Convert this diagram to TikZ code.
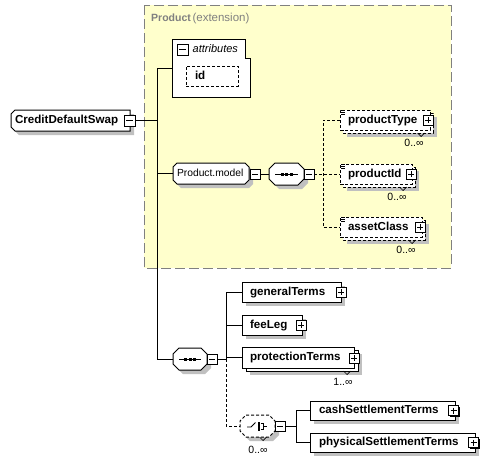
\documentclass[tikz,border=0pt]{standalone}
\usepackage{fontspec}
\setmainfont{Liberation Sans}
\pgfdeclarelayer{bg}
\pgfdeclarelayer{shp}
\pgfdeclarelayer{top}
\pgfsetlayers{bg,shp,main,top}
\definecolor{prodbg}{RGB}{255,255,204}
\definecolor{prodline}{RGB}{128,128,128}
\definecolor{shgray}{RGB}{192,192,192}
\newcommand\efont{\fontsize{11.6}{13}\selectfont\bfseries}
\newcommand\lfont{\fontsize{10.5}{12}\selectfont}
% chamfered outline of a node: #1 options, #2 node, #3 left cut, #4 right cut
\newcommand\chamferpath[4]{%
  \path[#1] ([xshift=#3]#2.north west) -- ([xshift=-#4]#2.north east)
    -- ([yshift=-#4]#2.north east) -- ([yshift=#4]#2.south east)
    -- ([xshift=-#4]#2.south east) -- ([xshift=#3]#2.south west)
    -- ([yshift=#3]#2.south west) -- ([yshift=-#3]#2.north west) -- cycle;}
% shifted copy of a node's rectangle: #1 options, #2 node, #3 shift
\newcommand\rectcopy[3]{%
  \path[#1] ([shift={#3}]#2.north west) rectangle ([shift={#3}]#2.south east);}
\tikzset{
  conn/.style={draw=black, line width=1pt},
  dconn/.style={conn, dash pattern=on 3pt off 2pt},
  base/.style={outer sep=0pt, inner ysep=0pt, text height=8.4pt, text depth=2.4pt, align=left, minimum height=20pt},
  elem/.style={base, font=\efont, draw=black, fill=white, line width=1pt, inner xsep=8pt},
  optelem/.style={elem, dash pattern=on 3pt off 2pt},
  ghost/.style={base, draw=none, fill=none},
  copysolid/.style={fill=white, draw=black, line width=1pt},
  copydashed/.style={copysolid, dash pattern=on 3pt off 2pt},
  shapestyle/.style={fill=white, draw=black, line width=1pt},
  dshapestyle/.style={shapestyle, dash pattern=on 3pt off 2pt},
  pmbox/.style={draw=black, fill=white, line width=0.9pt, minimum size=10pt, inner sep=0pt, outer sep=0pt},
  minusbox/.style={pmbox, path picture={\draw[line width=0.9pt] ([xshift=2pt]path picture bounding box.west) -- ([xshift=-2pt]path picture bounding box.east);}},
  plusbox/.style={pmbox, path picture={\draw[line width=0.9pt] ([xshift=2pt]path picture bounding box.west) -- ([xshift=-2pt]path picture bounding box.east) ([yshift=-2pt]path picture bounding box.north) -- ([yshift=2pt]path picture bounding box.south);}},
  occ/.style={font=\lfont, inner sep=0pt, outer sep=0pt},
  notch/.style={draw=black, line width=0.7pt},
  simpleicon/.style={draw=black, line width=0.8pt},
}
\begin{document}
\begin{tikzpicture}[x=1pt, y=-1pt]
\useasboundingbox (0,0) rectangle (502,463);
\begin{pgfonlayer}{bg}
  \fill[white] (0,0) rectangle (502,463);
  \path[fill=prodbg, draw=prodline, line width=1pt, dash pattern=on 10pt off 4pt] (144,5) rectangle (451,268);
  % drop shadows
  \fill[shgray] (19,114) -- (134,114) -- (134,135) -- (19,135) -- (15,131) -- (15,118) -- cycle;
  \fill[shgray] (181,167) -- (249,167) -- (253,171) -- (253,184) -- (249,188) -- (181,188) -- (177,184) -- (177,171) -- cycle;
  \fill[shgray] (279,167) -- (302,167) -- (308,173) -- (308,183) -- (302,189) -- (279,189) -- (273,183) -- (273,173) -- cycle;
  \fill[shgray] (183,352) -- (205,352) -- (211,358) -- (211,368) -- (205,374) -- (183,374) -- (177,368) -- (177,358) -- cycle;
  \fill[shgray] (250,419) -- (273,419) -- (279,425) -- (279,435) -- (273,441) -- (250,441) -- (244,435) -- (244,425) -- cycle;
  \fill[shgray] (190,70) rectangle (242,90);
  \fill[shgray] (246,286) rectangle (345,306);
  \fill[shgray] (246,319) rectangle (306,339);
  \fill[shgray] (250,354) rectangle (362,375);
  \fill[shgray] (314,405) rectangle (459,424);
  \fill[shgray] (314,437) rectangle (479,456);
  \fill[shgray] (347,117) rectangle (437,137);
  \fill[shgray] (347,171) rectangle (419,191);
  \fill[shgray] (347,224) rectangle (429,244);
\end{pgfonlayer}

% header of the extension region
\node[anchor=west, inner sep=0pt, text=prodline] (hdr) at (151,19)
  {{\fontsize{10.5}{12}\selectfont\bfseries Product}\,{\fontsize{11.5}{13}\selectfont (extension)}};

% root element
\node[ghost, font=\efont, inner xsep=4pt, text width=111pt, minimum height=21pt, anchor=north west] (cds) at (11,110) {\mbox{CreditDefaultSwap}};

% attributes
\node[ghost, minimum width=78pt, minimum height=58pt, anchor=north west] (attr) at (172,39) {};
\node[anchor=west, inner sep=0pt, font=\fontsize{11}{13}\selectfont\itshape] (attrt) at (192.5,49) {attributes};

% Product.model group and sequence 1
\node[ghost, font=\fontsize{10.3}{12}\selectfont, inner xsep=4pt, text width=68pt, minimum height=21pt, anchor=north west] (pmodel) at (173,163) {\mbox{Product.model}};
\node[ghost, minimum width=35pt, minimum height=22pt, anchor=north west] (seq1) at (269,163) {};

% sequence 2, choice
\node[ghost, minimum width=34pt, minimum height=22pt, anchor=north west] (seq2) at (173,348) {};
\node[ghost, minimum width=35pt, minimum height=22pt, anchor=north west] (choice) at (240,415) {};

% element boxes
\node[optelem, inner xsep=9pt, text width=34pt, anchor=north west] (id) at (186,66) {\mbox{id}};
\node[optelem, text width=74pt, anchor=north west] (pt) at (340,110) {\mbox{productType}};
\node[optelem, text width=56pt, anchor=north west] (pid) at (340,164) {\mbox{productId}};
\node[optelem, text width=66pt, anchor=north west] (ac) at (340,217) {\mbox{assetClass}};
\node[elem, text width=83pt, anchor=north west] (gt) at (242,282) {\mbox{generalTerms}};
\node[elem, text width=44pt, anchor=north west] (fee) at (242,315) {\mbox{feeLeg}};
\node[elem, text width=96pt, minimum height=21pt, anchor=north west] (pr) at (242,347) {\mbox{protectionTerms}};
\node[elem, inner xsep=9pt, text width=127pt, minimum height=19pt, anchor=north west] (cash) at (310,401) {\mbox{cashSettlementTerms}};
\node[elem, inner xsep=9pt, text width=147pt, minimum height=19pt, anchor=north west] (phys) at (310,433) {\mbox{physicalSettlementTerms}};

% occurrence labels
\node[occ] (ptocc) at (414,143) {0..∞};
\node[occ] (pidocc) at (397,197) {0..∞};
\node[occ] (acocc) at (406,250) {0..∞};
\node[occ] (procc) at (343,382) {1..∞};
\node[occ] (chocc) at (258,450) {0..∞};

% junction x positions
\coordinate (j1) at (157,0);
\coordinate (j2) at (323,0);
\coordinate (j3) at (226,0);
\coordinate (j4) at (296,0);

% shapes behind the texts
\begin{pgfonlayer}{shp}
  \chamferpath{shapestyle}{cds}{4pt}{0pt}
  \path[fill=white, draw=black, line width=1pt] (attr.north west) -- ([xshift=-5pt]attr.north east)
    -- ([xshift=-5pt, yshift=-19pt]attr.north east) -- ([yshift=-19pt]attr.north east)
    -- (attr.south east) -- (attr.south west) -- cycle;
  \chamferpath{shapestyle}{pmodel}{4pt}{4pt}
  \chamferpath{shapestyle}{seq1}{6pt}{6pt}
  \chamferpath{shapestyle}{seq2}{6pt}{6pt}
  \chamferpath{dshapestyle}{choice}{6pt}{6pt}
  \rectcopy{copysolid}{pr}{(4pt,-3pt)}
  \rectcopy{copydashed}{pt}{(3pt,-3pt)}
  \rectcopy{copydashed}{pid}{(3pt,-3pt)}
  \rectcopy{copydashed}{ac}{(3pt,-3pt)}
\end{pgfonlayer}

% sequence icons
\draw[line width=1pt] (275,174) -- (298,174);
\foreach \dx in {282,286.5,291} {\fill (\dx-1.5,172.5) rectangle (\dx+1.5,175.5);}
\draw[line width=1pt] (179,359) -- (201,359);
\foreach \dx in {185.5,190,194.5} {\fill (\dx-1.5,357.5) rectangle (\dx+1.5,360.5);}

% choice icon
\draw[line width=0.9pt] (247,427) -- (251,427) -- (255.5,422.5);
\foreach \dy in {423.5,426.5,429.5} {\fill (257.5,\dy-1.2) rectangle (260,\dy+1.2);}
\draw[line width=0.9pt] (260.5,423.5) -- (263,423.5) -- (263,429.5) -- (260.5,429.5) (263,426.5) -- (267,426.5);

% occurrence notches
\draw[notch] (417.5,133) -- (421,136.5) -- (424.5,133);
\draw[notch] (399.5,187) -- (403,190.5) -- (406.5,187);
\draw[notch] (408.5,240) -- (412,243.5) -- (415.5,240);
\draw[notch] (343.5,371) -- (347,374.5) -- (350.5,371);
\draw[notch] (259.5,437) -- (263,440.5) -- (266.5,437);

% dark shadows of the buttons
\foreach \cx/\cy/\h in {129.5/120.5/5.5, 182.5/49.5/5.5, 255/174/5, 309/174/5, 212/359/5, 280/426/5,
    428/120/5, 411/174/5, 420/227/5, 341/292/5, 301/325/5, 354/358/5, 453.5/410.5/5, 473.5/442.5/5}
  {\fill[black] (\cx-\h+1.2,\cy-\h+1.2) rectangle (\cx+\h+1.2,\cy+\h+1.2);}

% expand / collapse buttons
\begin{pgfonlayer}{top}
  \node[minusbox, minimum size=11pt] (cdsm) at (129.5,120.5) {};
  \node[minusbox, minimum size=11pt] (attrm) at (182.5,49.5) {};
  \node[minusbox] (pmodelm) at (255,174) {};
  \node[minusbox] (seq1m) at (309,174) {};
  \node[minusbox] (seq2m) at (212,359) {};
  \node[minusbox] (choicem) at (280,426) {};
  \node[plusbox] (ptp) at (428,120) {};
  \node[plusbox] (pidp) at (411,174) {};
  \node[plusbox] (acp) at (420,227) {};
  \node[plusbox] (gtp) at (341,292) {};
  \node[plusbox] (feep) at (301,325) {};
  \node[plusbox] (prp) at (354,358) {};
  \node[plusbox] (cashp) at (453.5,410.5) {};
  \node[plusbox] (physp) at (473.5,442.5) {};
  \foreach \yy in {110, 164, 217} {
    \fill[white] (340.5,\yy-0.5) rectangle (346,\yy+5);
    \draw[simpleicon] (341,\yy+0.5) -- (345,\yy+0.5) (341,\yy+2.5) -- (345,\yy+2.5) (341,\yy+4.5) -- (345,\yy+4.5);
  }
\end{pgfonlayer}

% connectors
\draw[conn] (cdsm.east) -- (cdsm.east -| j1);
\draw[conn] (attr.west) -- (attr.west -| j1) -- (seq2.west -| j1) -- (seq2.west);
\draw[conn] (pmodel.west) -- (pmodel.west -| j1);
\draw[conn] (pmodelm.east) -- (seq1.west);
\draw[dconn] (seq1m.east) -- (pid.west);
\draw[dconn] (pt.west) -- (pt.west -| j2) -- (ac.west -| j2) -- (ac.west);
\draw[conn] (seq2m.east) -- (seq2m.east -| j3);
\draw[conn] (gt.west) -- (gt.west -| j3) -- (seq2m.east -| j3);
\draw[conn] (fee.west) -- (fee.west -| j3);
\draw[conn] (pr.west) -- (pr.west -| j3);
\draw[dconn] (seq2m.east -| j3) -- (choice.west -| j3) -- (choice.west);
\draw[conn] (choicem.east) -- (choicem.east -| j4);
\draw[conn] (cash.west) -- (cash.west -| j4) -- (phys.west -| j4) -- (phys.west);
\end{tikzpicture}
\end{document}
